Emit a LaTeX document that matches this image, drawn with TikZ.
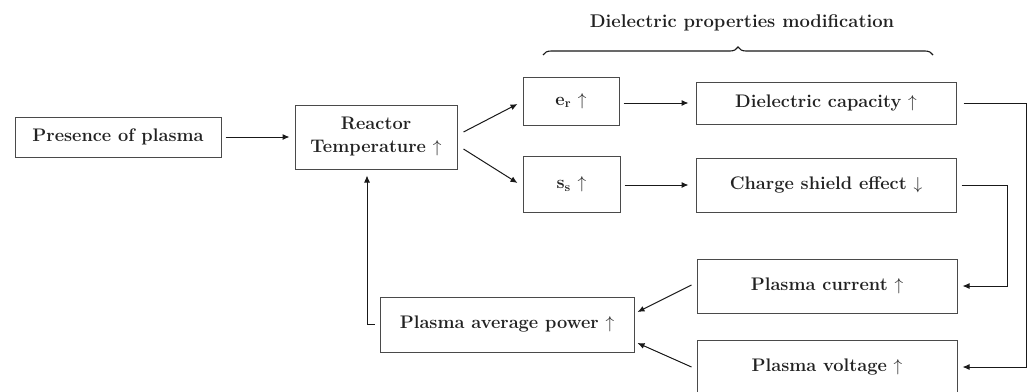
\documentclass[tikz,border=0pt]{standalone}
\usepackage{fontspec}
\usetikzlibrary{arrows.meta,calc,decorations.pathreplacing}
\definecolor{txt}{HTML}{222222}
\definecolor{bord}{HTML}{4A4A4A}
\begin{document}
\begin{tikzpicture}[x=1pt,y=-1pt,
  box/.style={draw=bord,line width=1pt,rectangle,inner sep=0pt,text=txt,
    font=\fontsize{18.2}{23}\selectfont\bfseries,align=center},
  arr/.style={draw=black!90,line width=1pt,-{Latex[length=7pt,width=6pt]}},
  ln/.style={draw=black!90,line width=1pt}]
\useasboundingbox (0,0) rectangle (1030,391);
\node[box,minimum width=206pt,minimum height=40pt] (pres) at (118,137) {Presence of plasma};
\node[box,minimum width=162pt,minimum height=64pt] (react) at (376,137) {Reactor\\Temperature $\uparrow$};
\node[box,minimum width=96pt,minimum height=48pt] (er) at (571,101) {e\textsubscript{r} $\uparrow$};
\node[box,minimum width=97pt,minimum height=56pt] (ss) at (571.5,184.5) {s\textsubscript{s} $\uparrow$};
\node[box,minimum width=260pt,minimum height=42pt] (dc) at (826,103) {Dielectric capacity $\uparrow$};
\node[box,minimum width=260pt,minimum height=54pt] (cs) at (826,185) {Charge shield effect $\downarrow$};
\node[box,minimum width=260pt,minimum height=54pt] (pc) at (827,286) {Plasma current $\uparrow$};
\node[box,minimum width=260pt,minimum height=54pt] (pv) at (827,367) {Plasma voltage $\uparrow$};
\node[box,minimum width=254pt,minimum height=55pt] (pap) at (507,324.5) {Plasma average power $\uparrow$};
\coordinate (r1) at (1026,0);
\coordinate (r2) at (1007,0);
% brace
\coordinate (bl) at (543,55);
\coordinate (br) at (933,55);
\draw[line width=1.1pt,black!90,decorate,decoration={brace,amplitude=8pt}] (bl) -- (br);
\node[text=txt,font=\fontsize{18.4}{21}\selectfont\bfseries] (title) at (742,23) {Dielectric properties modification};
% connectors
\draw[arr,shorten <=4pt,shorten >=5pt] (pres.east) -- (react.west);
\draw[arr] ($(react.east)+(6,-5)$) -- ($(er.west)+(-5,3)$);
\draw[arr] ($(react.east)+(6,12)$) -- ($(ss.west)+(-5,-1.5)$);
\draw[arr,shorten <=4pt,shorten >=7pt] (er.east |- dc.west) -- (dc.west);
\draw[arr,shorten <=4pt,shorten >=7pt] (ss.east |- cs.west) -- (cs.west);
\draw[arr,shorten <=7pt,shorten >=5pt] (dc.east) -- (dc.east -| r1) -- (r1 |- pv.east) -- (pv.east);
\draw[arr,shorten <=5pt,shorten >=5pt] (cs.east) -- (cs.east -| r2) -- (r2 |- pc.east) -- (pc.east);
\draw[arr,shorten <=5pt,shorten >=6pt] (pap.west) -- ($(pap.west -| react.south)+(-9,0)$) -- ($(react.south)+(-9,0)$);
\draw[arr] ($(pc.west)+(-5,-1)$) -- ($(pap.east)+(3,-12.5)$);
\draw[arr] ($(pv.west)+(-5,0)$) -- ($(pap.east)+(3,18.5)$);
\end{tikzpicture}
\end{document}
